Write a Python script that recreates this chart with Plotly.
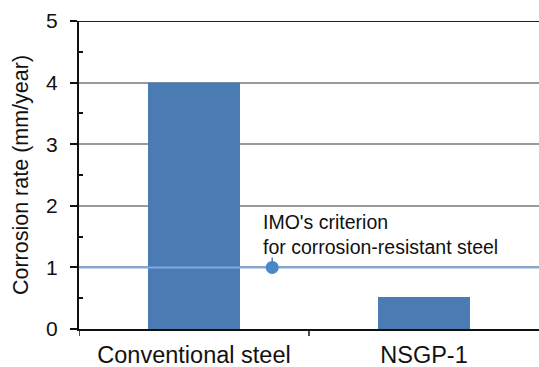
import plotly.graph_objects as go

categories = ["Conventional steel", "NSGP-1"]
corrosion_rate = [4.0, 0.52]
criterion_value = 1.0
criterion_x = 0.34
criterion_label = "IMO's criterion<br>for corrosion-resistant steel"
y_ticks = [0, 1, 2, 3, 4, 5]

fig = go.Figure()
fig.add_trace(go.Bar(
    x=[0, 1], y=corrosion_rate, width=0.4,
    marker=dict(color="#4a7bb2", line=dict(width=0)),
))
# criterion line
fig.add_trace(go.Scatter(
    x=[-0.5, 1.5], y=[criterion_value, criterion_value], mode="lines",
    line=dict(color="#7eaadd", width=2), cliponaxis=False,
))
# small stem from the marker
fig.add_trace(go.Scatter(
    x=[criterion_x, criterion_x], y=[criterion_value, criterion_value + 0.16], mode="lines",
    line=dict(color="#4a86c8", width=1.5),
))
fig.add_trace(go.Scatter(
    x=[criterion_x], y=[criterion_value], mode="markers",
    marker=dict(color="#4a86c8", size=13),
))
fig.add_shape(type="line", xref="paper", yref="y", x0=0, x1=1, y0=5, y1=5,
              line=dict(color="#222222", width=2))
fig.add_annotation(
    x=criterion_x - 0.05, y=criterion_value + 0.12, xref="x", yref="y",
    text=criterion_label, showarrow=False, xanchor="left", yanchor="bottom",
    align="left", font=dict(size=19.5, color="#111111", family="Liberation Sans"),
)

fig.update_layout(
    width=539, height=367,
    margin=dict(l=79, r=0, t=21, b=38),
    paper_bgcolor="white", plot_bgcolor="white",
    showlegend=False,
    font=dict(family="Liberation Sans", color="#111111"),
    xaxis=dict(
        range=[-0.5, 1.5], tickmode="array", tickvals=[0, 1], ticktext=categories,
        showgrid=False, zeroline=False, showline=True, linecolor="#111111", linewidth=2,
        tickfont=dict(size=23.5), ticklabelstandoff=4,
    ),
    yaxis=dict(
        range=[0, 5], tickvals=y_ticks, showgrid=True, gridcolor="#9a9a9a", gridwidth=1.5,
        zeroline=False, showline=True, linecolor="#111111", linewidth=2,
        ticks="outside", ticklen=7, tickwidth=1.5, tickcolor="#111111",
        tickfont=dict(size=21), ticklabelstandoff=8,
        title=dict(text="Corrosion rate (mm/year)", font=dict(size=21.5), standoff=12),
        minor=dict(tickvals=[0.5, 1.5, 2.5, 3.5, 4.5], ticks="inside", ticklen=4,
                   tickwidth=1.5, tickcolor="#111111", showgrid=False),
    ),
)
# category boundary ticks on x axis
for xb in [-0.5, 0.5]:
    fig.add_shape(type="line", xref="x", yref="paper", x0=xb, x1=xb, y0=0, y1=-0.023,
                  line=dict(color="#111111", width=1.5))

fig.write_html("out.html")
